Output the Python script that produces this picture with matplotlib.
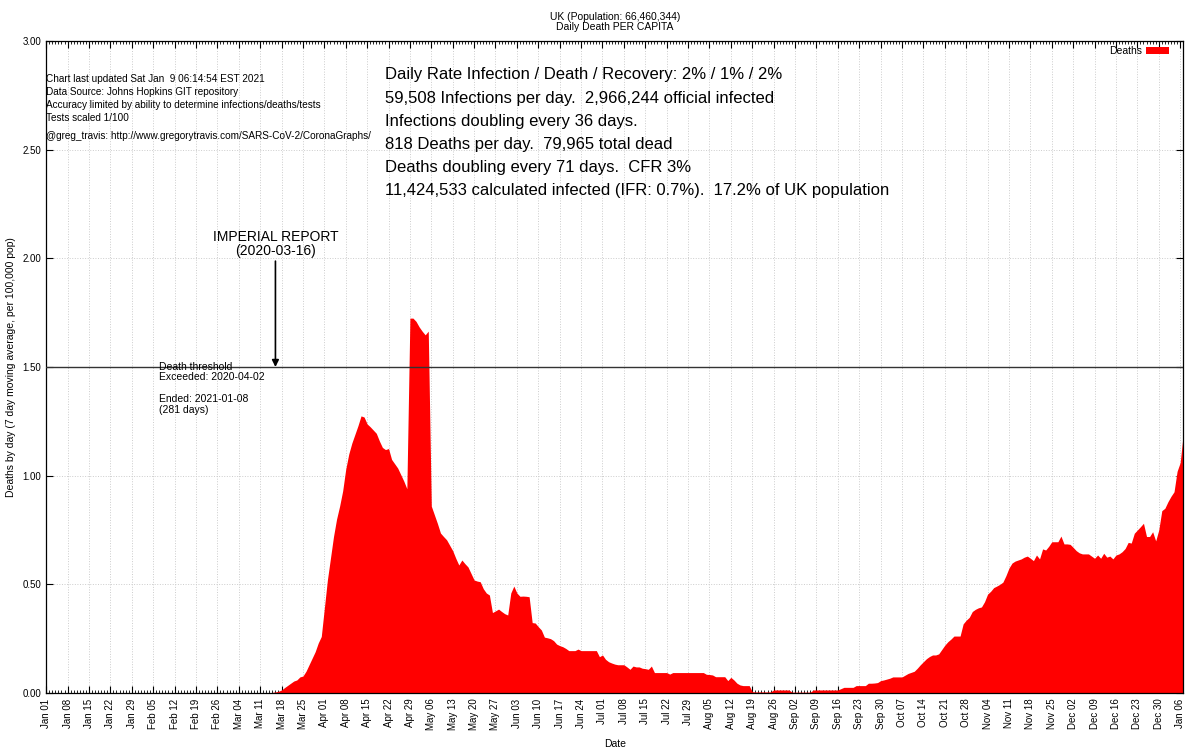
import numpy as np
import pandas as pd
import matplotlib
matplotlib.use('Agg')
from matplotlib import pyplot as plt
import matplotlib.dates as mdates

# 数据：英国每日死亡（7日均值，每10万人）
start_date = '2020-03-15'
deaths = [
    0.003, 0.005, 0.008, 0.014, 0.025, 0.035, 0.045,   # Mar 15
    0.055, 0.06, 0.074, 0.078, 0.10, 0.13, 0.16,       # Mar 22
    0.19, 0.23, 0.26, 0.39, 0.52, 0.62, 0.72,          # Mar 29
    0.80, 0.86, 0.93, 1.03, 1.10, 1.15, 1.19,          # Apr 05
    1.23, 1.275, 1.27, 1.238, 1.225, 1.21, 1.195,      # Apr 12
    1.16, 1.13, 1.12, 1.125, 1.075, 1.055, 1.035,      # Apr 19
    1.005, 0.975, 0.94, 1.725, 1.725, 1.71, 1.685,     # Apr 26
    1.665, 1.648, 1.665, 0.86, 0.82, 0.78, 0.736,      # May 03
    0.72, 0.705, 0.68, 0.655, 0.62, 0.589, 0.612,      # May 10
    0.595, 0.58, 0.55, 0.52, 0.515, 0.512, 0.48,       # May 17
    0.46, 0.451, 0.37, 0.378, 0.386, 0.375, 0.365,     # May 24
    0.359, 0.46, 0.492, 0.46, 0.445, 0.446, 0.445,     # May 31
    0.443, 0.324, 0.322, 0.305, 0.29, 0.257, 0.254,    # Jun 07
    0.25, 0.241, 0.225, 0.218, 0.213, 0.205, 0.195,    # Jun 14
    0.195, 0.195, 0.202, 0.195, 0.195, 0.195, 0.195,   # Jun 21
    0.195, 0.195, 0.167, 0.175, 0.155, 0.144, 0.138,   # Jun 28
    0.133, 0.13, 0.13, 0.13, 0.12, 0.109, 0.124,       # Jul 05
    0.12, 0.12, 0.114, 0.112, 0.109, 0.124, 0.094,     # Jul 12
    0.094, 0.094, 0.094, 0.094, 0.087, 0.094, 0.094,   # Jul 19
    0.094, 0.094, 0.094, 0.094, 0.094, 0.094, 0.094,   # Jul 26
    0.094, 0.094, 0.086, 0.085, 0.083, 0.075, 0.075,   # Aug 02
    0.075, 0.075, 0.057, 0.072, 0.06, 0.045, 0.037,    # Aug 09
    0.034, 0.034, 0.034, 0.006, 0.005, 0.005, 0.005,   # Aug 16
    0.005, 0.005, 0.005, 0.014, 0.014, 0.014, 0.014,   # Aug 23
    0.014, 0.014, 0.004, 0.004, 0.004, 0.004, 0.004,   # Aug 30
    0.004, 0.004, 0.014, 0.014, 0.014, 0.014, 0.014,   # Sep 06
    0.014, 0.014, 0.014, 0.014, 0.02, 0.026, 0.026,    # Sep 13
    0.026, 0.026, 0.034, 0.034, 0.034, 0.034, 0.045,   # Sep 20
    0.045, 0.046, 0.048, 0.057, 0.06, 0.064, 0.068,    # Sep 27
    0.074, 0.074, 0.074, 0.074, 0.082, 0.09, 0.095,    # Oct 04
    0.10, 0.114, 0.13, 0.144, 0.158, 0.168, 0.175,     # Oct 11
    0.175, 0.18, 0.20, 0.22, 0.236, 0.248, 0.262,      # Oct 18
    0.262, 0.262, 0.318, 0.335, 0.348, 0.375, 0.385,   # Oct 25
    0.392, 0.396, 0.42, 0.455, 0.468, 0.485, 0.492,    # Nov 01
    0.50, 0.51, 0.54, 0.575, 0.598, 0.607, 0.612,      # Nov 08
    0.617, 0.625, 0.63, 0.62, 0.609, 0.635, 0.617,     # Nov 15
    0.663, 0.658, 0.675, 0.696, 0.696, 0.696, 0.722,   # Nov 22
    0.686, 0.686, 0.684, 0.67, 0.655, 0.645, 0.64,     # Nov 29
    0.64, 0.64, 0.63, 0.62, 0.635, 0.62, 0.643,        # Dec 06
    0.625, 0.63, 0.617, 0.635, 0.64, 0.65, 0.665,      # Dec 13
    0.693, 0.69, 0.735, 0.75, 0.765, 0.781, 0.72,      # Dec 20
    0.72, 0.742, 0.70, 0.75, 0.839, 0.85, 0.88,        # Dec 27
    0.905, 0.926, 1.02, 1.06, 1.19,                    # Jan 03
]

threshold = 1.5
imperial_date = '2020-03-16'

title_lines = ['UK (Population: 66,460,344)', 'Daily Death PER CAPITA']
info_lines = [
    'Chart last updated Sat Jan  9 06:14:54 EST 2021',
    'Data Source: Johns Hopkins GIT repository',
    'Accuracy limited by ability to determine infections/deaths/tests',
    'Tests scaled 1/100',
]
credit = '@greg_travis: http://www.gregorytravis.com/SARS-CoV-2/CoronaGraphs/'
stats_lines = [
    'Daily Rate Infection / Death / Recovery: 2% / 1% / 2%',
    '59,508 Infections per day.  2,966,244 official infected',
    'Infections doubling every 36 days.',
    '818 Deaths per day.  79,965 total dead',
    'Deaths doubling every 71 days.  CFR 3%',
    '11,424,533 calculated infected (IFR: 0.7%).  17.2% of UK population',
]
threshold_text = 'Death threshold\nExceeded: 2020-04-02\n\nEnded: 2021-01-08\n(281 days)'


def paint():
    plt.rcParams['font.family'] = ['Liberation Sans', 'DejaVu Sans']
    dates = pd.date_range(start_date, periods=len(deaths), freq='D')
    x_start = pd.Timestamp('2020-01-01')
    x_end = dates[-1]

    fig = plt.figure(figsize=(12, 7.5), dpi=100)
    ax = fig.add_subplot(111)
    fig.subplots_adjust(left=0.0385, right=0.986, top=0.9453, bottom=0.076)

    ax.fill_between(dates, deaths, 0, color='#ff0000', lw=0, zorder=2, label='Deaths')
    ax.axhline(threshold, color='#333333', lw=1.0, zorder=3)

    ax.set_xlim(x_start, x_end)
    ax.set_ylim(0, 3)

    # 刻度
    major = pd.date_range(x_start, x_end, freq='7D')
    ax.set_xticks(major)
    ax.xaxis.set_major_formatter(mdates.DateFormatter('%b %d'))
    ax.xaxis.set_minor_locator(mdates.DayLocator())
    ax.set_yticks(np.arange(0, 3.01, 0.5))
    ax.yaxis.set_major_formatter(plt.FormatStrFormatter('%.2f'))
    ax.tick_params(axis='both', which='both', direction='in', top=True, right=True, labelsize=7)
    ax.tick_params(axis='both', which='major', length=5, width=0.8)
    ax.tick_params(axis='x', which='minor', length=2.5, width=0.6)
    ax.tick_params(axis='x', which='major', labelrotation=90, pad=4)
    ax.grid(True, which='major', color='#cccccc', linestyle=':', lw=0.7, zorder=0)
    ax.set_axisbelow(True)

    ax.set_xlabel('Date', fontsize=7.5, labelpad=6)
    ax.set_ylabel('Deaths by day (7 day moving average, per 100,000 pop)', fontsize=7.5, labelpad=5)
    ax.set_title('\n'.join(title_lines), fontsize=7.5, pad=8, linespacing=0.95)

    # 帝国理工报告
    ax.annotate('IMPERIAL REPORT\n(2020-03-16)', xy=(pd.Timestamp(imperial_date), threshold),
                xytext=(pd.Timestamp(imperial_date), 2.0), ha='center', va='bottom',
                fontsize=10, linespacing=1.0,
                arrowprops=dict(arrowstyle='-|>', color='black', lw=1.2, shrinkA=0, shrinkB=0,
                                mutation_scale=10))

    ax.text(pd.Timestamp('2020-02-07'), 1.525, threshold_text, ha='left', va='top',
            fontsize=7.5, linespacing=1.1)

    for i, line in enumerate(info_lines):
        ax.text(x_start, 2.826 - i * 0.0598, line, ha='left', va='center', fontsize=7.2)
    ax.text(x_start, 2.563, credit, ha='left', va='center', fontsize=7.2)

    for i, line in enumerate(stats_lines):
        ax.text(pd.Timestamp('2020-04-21'), 2.844 - i * 0.1068, line, ha='left', va='center',
                fontsize=12)

    leg = ax.legend(loc='upper right', bbox_to_anchor=(0.996, 1.007), frameon=False,
                    fontsize=7.5, markerfirst=False, handlelength=2.2, handletextpad=0.4)
    for h in leg.legend_handles:
        h.set_height(5)

    for s in ax.spines.values():
        s.set_linewidth(0.9)

    plt.savefig('out.png', dpi=100)


if __name__ == '__main__':
    paint()
